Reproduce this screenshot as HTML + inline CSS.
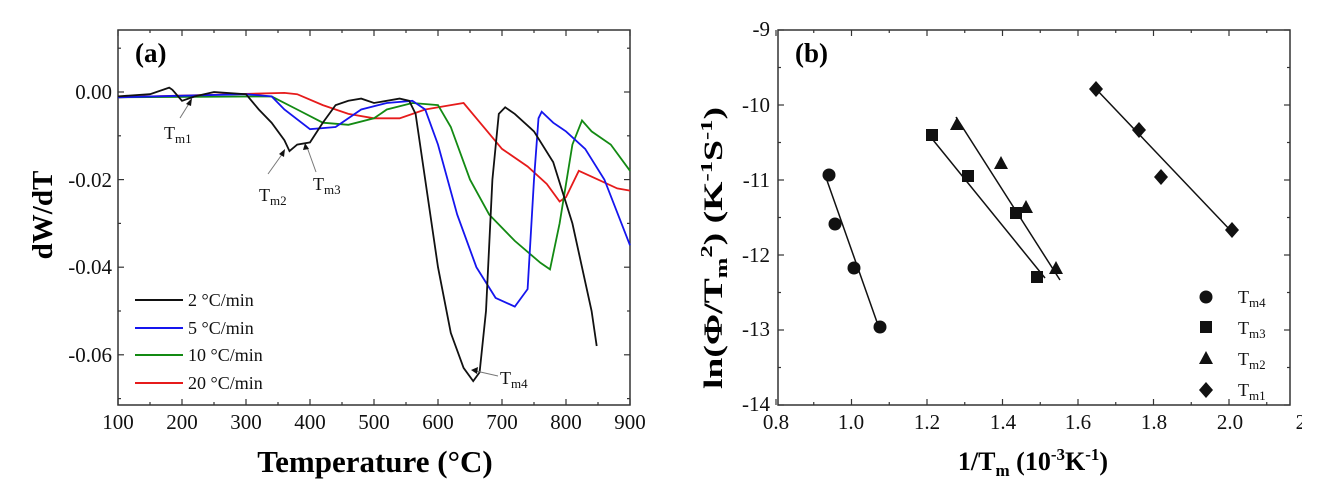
<!DOCTYPE html>
<html><head><meta charset="utf-8"><style>
body{margin:0;background:#fff;}
svg{display:block;font-family:"Liberation Serif",serif;}
</style></head><body>
<svg id="s" width="1334" height="502" viewBox="0 0 1334 502">
<rect x="118" y="30" width="512" height="375" fill="none" stroke="#333" stroke-width="1.5"/>
<rect x="778" y="30" width="512" height="375" fill="none" stroke="#333" stroke-width="1.5"/>
<g id="ax" stroke="#333" stroke-width="1.2"></g>
<g font-size="21" fill="#111" text-anchor="middle">
<text x="118" y="429">100</text><text x="182" y="429">200</text><text x="246" y="429">300</text><text x="310" y="429">400</text><text x="374" y="429">500</text><text x="438" y="429">600</text><text x="502" y="429">700</text><text x="566" y="429">800</text><text x="630" y="429">900</text>
</g>
<g font-size="21" fill="#111" text-anchor="end">
<text x="112" y="99">0.00</text><text x="112" y="187">-0.02</text><text x="112" y="274">-0.04</text><text x="112" y="362">-0.06</text>
</g>
<text x="135" y="62" font-size="27" font-weight="bold">(a)</text>
<text transform="translate(52,215) rotate(-90)" text-anchor="middle" font-size="29" font-weight="bold">dW/dT</text>
<text x="375" y="472" text-anchor="middle" font-size="31" font-weight="bold">Temperature (°C)</text>
<g id="curves" fill="none" stroke-width="1.8"></g>
<g font-size="18" fill="#111">
<line x1="135" y1="300" x2="183" y2="300" stroke="#111" stroke-width="2"/><text x="188" y="306">2 °C/min</text>
<line x1="135" y1="328" x2="183" y2="328" stroke="#1515ee" stroke-width="2"/><text x="188" y="334">5 °C/min</text>
<line x1="135" y1="355" x2="183" y2="355" stroke="#138a13" stroke-width="2"/><text x="188" y="361">10 °C/min</text>
<line x1="135" y1="383" x2="183" y2="383" stroke="#e61b1b" stroke-width="2"/><text x="188" y="389">20 °C/min</text>
<text x="164" y="139">T<tspan font-size="13" dy="4">m1</tspan></text>
<text x="259" y="201">T<tspan font-size="13" dy="4">m2</tspan></text>
<text x="313" y="190">T<tspan font-size="13" dy="4">m3</tspan></text>
<text x="500" y="384">T<tspan font-size="13" dy="4">m4</tspan></text>
</g>
<g stroke="#777" stroke-width="1" fill="#111">
<line x1="180" y1="118" x2="190" y2="102"/><polygon points="192,98 186,104 191,106" stroke="none"/>
<line x1="268" y1="174" x2="283" y2="153"/><polygon points="285,149 279,154 284,157" stroke="none"/>
<line x1="316" y1="172" x2="307" y2="147"/><polygon points="305,143 303,150 309,149" stroke="none"/>
<line x1="498" y1="376" x2="476" y2="371"/><polygon points="471,370 478,367 477,374" stroke="none"/>
</g>
<g font-size="21" fill="#111" text-anchor="middle">
<text x="776" y="429">0.8</text><text x="851" y="429">1.0</text><text x="927" y="429">1.2</text><text x="1003" y="429">1.4</text><text x="1078" y="429">1.6</text><text x="1154" y="429">1.8</text><text x="1230" y="429">2.0</text><text x="1314" y="429">2.25</text>
</g>
<rect x="1302" y="405" width="32" height="40" fill="#fff"/>
<g font-size="21" fill="#111" text-anchor="end">
<text x="770" y="36">-9</text><text x="770" y="112">-10</text><text x="770" y="187">-11</text><text x="770" y="262">-12</text><text x="770" y="336">-13</text><text x="770" y="411">-14</text>
</g>
<text x="795" y="62" font-size="27" font-weight="bold">(b)</text>
<text transform="translate(722,248) rotate(-90) scale(1.45,1)" text-anchor="middle" font-size="26" font-weight="bold">ln(Φ/T<tspan font-size="17" dy="5">m</tspan><tspan font-size="17" dy="-15">2</tspan><tspan dy="10">) (K</tspan><tspan font-size="17" dy="-10">-1</tspan><tspan dy="10">S</tspan><tspan font-size="17" dy="-10">-1</tspan><tspan dy="10">)</tspan></text>
<text x="1033" y="470" text-anchor="middle" font-size="26" font-weight="bold">1/T<tspan font-size="17" dy="6">m</tspan><tspan dy="-6"> (10</tspan><tspan font-size="17" dy="-10">-3</tspan><tspan dy="10">K</tspan><tspan font-size="17" dy="-10">-1</tspan><tspan dy="10">)</tspan></text>
<g stroke="#111" stroke-width="1.5">
<line x1="824" y1="172" x2="878" y2="325"/>
<line x1="929" y1="135" x2="1045" y2="278"/>
<line x1="956" y1="117" x2="1060" y2="280"/>
<line x1="1096" y1="89" x2="1232" y2="232"/>
</g>
<g fill="#111">
<circle cx="829" cy="175" r="6.5"/><circle cx="835" cy="224" r="6.5"/><circle cx="854" cy="268" r="6.5"/><circle cx="880" cy="327" r="6.5"/>
<rect x="926" y="129" width="12" height="12"/><rect x="962" y="170" width="12" height="12"/><rect x="1010" y="207" width="12" height="12"/><rect x="1031" y="271" width="12" height="12"/>
<polygon points="957,117 964,130 950,130"/><polygon points="1001,156 1008,169 994,169"/><polygon points="1026,200 1033,213 1019,213"/><polygon points="1056,261 1063,274 1049,274"/>
<polygon points="1096,81 1103,89 1096,97 1089,89"/><polygon points="1139,122 1146,130 1139,138 1132,130"/><polygon points="1161,169 1168,177 1161,185 1154,177"/><polygon points="1232,222 1239,230 1232,238 1225,230"/>
<circle cx="1206" cy="297" r="6.5"/><rect x="1200" y="321" width="12" height="12"/><polygon points="1206,351 1213,364 1199,364"/><polygon points="1206,382 1213,390 1206,398 1199,390"/>
</g>
<g font-size="18" fill="#111">
<text x="1238" y="303">T<tspan font-size="13" dy="4">m4</tspan></text>
<text x="1238" y="334">T<tspan font-size="13" dy="4">m3</tspan></text>
<text x="1238" y="365">T<tspan font-size="13" dy="4">m2</tspan></text>
<text x="1238" y="396">T<tspan font-size="13" dy="4">m1</tspan></text>
</g>
</svg>
<script>
var NS="http://www.w3.org/2000/svg";
function X(T){return 118+(T-100)*0.64;}
function Y(v){return 92-v*4380;}
var series=[
["#111",[[100,-.001],[150,-.0005],[180,.001],[185,.0005],[200,-.002],[220,-.001],[250,0],[300,-.0005],[320,-.004],[340,-.007],[360,-.011],[368,-.0135],[380,-.012],[400,-.0115],[420,-.007],[440,-.003],[460,-.002],[480,-.0015],[500,-.0025],[540,-.0015],[555,-.002],[565,-.005],[580,-.02],[600,-.04],[620,-.055],[640,-.063],[655,-.066],[665,-.064],[675,-.05],[685,-.02],[695,-.005],[705,-.0035],[720,-.005],[750,-.009],[780,-.016],[810,-.03],[840,-.05],[848,-.058]]],
["#1515ee",[[100,-.0012],[300,-.0005],[340,-.001],[360,-.004],[400,-.0085],[440,-.008],[480,-.004],[520,-.0025],[560,-.002],[580,-.004],[600,-.012],[630,-.028],[660,-.04],[690,-.047],[720,-.049],[740,-.045],[750,-.02],[757,-.006],[762,-.0045],[780,-.007],[800,-.009],[830,-.013],[860,-.02],[900,-.035]]],
["#138a13",[[100,-.0012],[340,-.001],[380,-.004],[420,-.007],[460,-.0075],[500,-.006],[520,-.004],[560,-.0025],[600,-.003],[620,-.008],[650,-.02],[680,-.028],[720,-.034],[760,-.039],[775,-.0405],[790,-.03],[810,-.012],[825,-.0065],[840,-.009],[870,-.012],[900,-.018]]],
["#e61b1b",[[100,-.0012],[360,-.0002],[380,-.0005],[420,-.003],[460,-.005],[500,-.006],[540,-.006],[580,-.004],[620,-.003],[640,-.0025],[660,-.006],[700,-.013],[740,-.017],[770,-.021],[790,-.025],[800,-.024],[820,-.018],[850,-.02],[880,-.022],[900,-.0225]]]];
var g=document.getElementById("curves");
series.slice().reverse().forEach(function(s){
 var d="";s[1].forEach(function(p,i){d+=(i?"L":"M")+X(p[0]).toFixed(1)+","+Y(p[1]).toFixed(1);});
 var e=document.createElementNS(NS,"path");e.setAttribute("d",d);e.setAttribute("stroke",s[0]);g.appendChild(e);});
var ax=document.getElementById("ax");
function L(a,b,c,d){var e=document.createElementNS(NS,"line");e.setAttribute("x1",a);e.setAttribute("y1",b);e.setAttribute("x2",c);e.setAttribute("y2",d);ax.appendChild(e);}
for(var T=100;T<=900;T+=50){var x=X(T),l=T%100?3:6;L(x,405,x,405-l);L(x,30,x,30+l);}
for(var v=0.01;v>=-0.07;v-=0.01){var y=Y(v),l=Math.round(v*100)%2?3:6;L(118,y,118+l,y);L(630,y,630-l,y);}
for(var k=0;k<=13;k++){var x=776+k*37.75,l=k%2?3:6;if(x<1290){L(x,405,x,405-l);L(x,30,x,30+l);}}
for(var k=0;k<=10;k++){var y=30+k*37.5,l=k%2?3:6;L(778,y,778+l,y);L(1290,y,1290-l,y);}
</script>
</body></html>
